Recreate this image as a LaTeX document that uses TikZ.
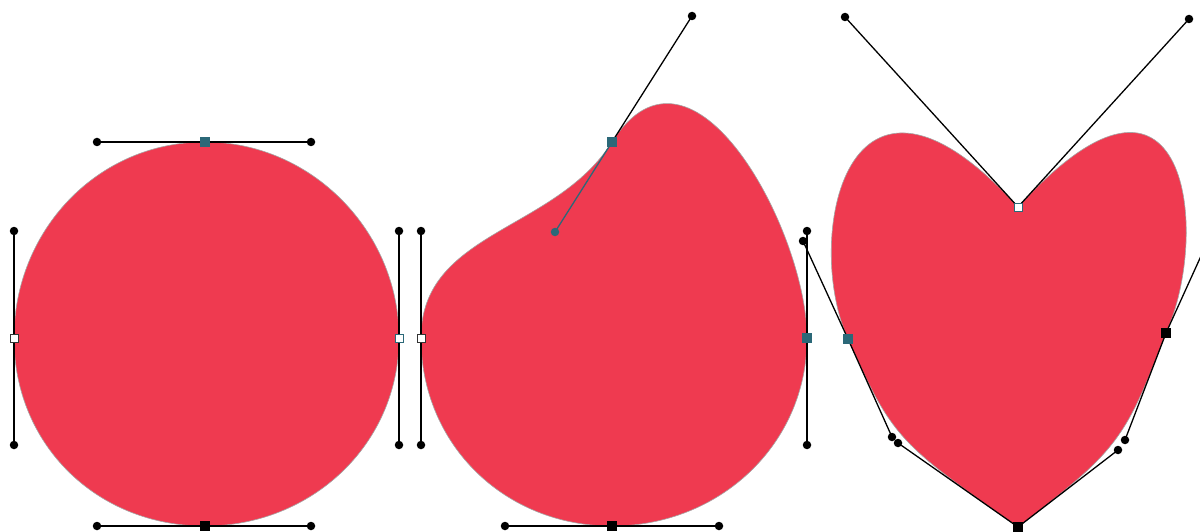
\documentclass[tikz,border=0pt]{standalone}
\begin{document}
\begin{tikzpicture}[x=1pt,y=-1pt,
  shapefill/.style={fill=heartred,draw=gray!70,line width=0.6pt},
  handle/.style={draw=black,line width=1.3pt},
  thandle/.style={draw=tealc,line width=1.3pt},
  dot/.style={circle,fill=black,inner sep=0pt,minimum size=8.5pt},
  tdot/.style={circle,fill=tealc,inner sep=0pt,minimum size=8.5pt},
  hollow/.style={rectangle,draw=black!80,fill=white,line width=1pt,inner sep=0pt,minimum size=8pt},
  thollow/.style={rectangle,draw=tealc,fill=white,line width=1pt,inner sep=0pt,minimum size=8pt},
  tsq/.style={rectangle,fill=tealc,inner sep=0pt,minimum size=9.5pt},
  bsq/.style={rectangle,fill=black,inner sep=0pt,minimum size=9.5pt}]
\definecolor{heartred}{HTML}{EF3A50}
\definecolor{tealc}{HTML}{2B6878}
\useasboundingbox (0,0) rectangle (1200,532);
\clip (0,0) rectangle (1200,532);

% ---------- circle ----------
\coordinate (cT) at (205,142);
\coordinate (cB) at (205,526);
\coordinate (cL) at (14,338);
\coordinate (cR) at (399,338);
\coordinate (cT1) at (97,142);  \coordinate (cT2) at (311,142);
\coordinate (cB1) at (97,526);  \coordinate (cB2) at (311,526);
\coordinate (cL1) at (14,231);  \coordinate (cL2) at (14,445);
\coordinate (cR1) at (399,231); \coordinate (cR2) at (399,445);
\path[shapefill] (cL) .. controls (cL1) and (cT1) .. (cT)
  .. controls (cT2) and (cR1) .. (cR)
  .. controls (cR2) and (cB2) .. (cB)
  .. controls (cB1) and (cL2) .. (cL) -- cycle;
\draw[handle] (cT1) -- (cT2);
\draw[handle] (cB1) -- (cB2);
\draw[handle] (cL1) -- (cL2);
\draw[handle] (cR1) -- (cR2);
\foreach \p in {cT1,cT2,cB1,cB2,cL1,cL2,cR1,cR2} \node[dot] at (\p) {};
\node[tsq] (ncT) at (cT) {};
\node[bsq] (ncB) at (cB) {};
\node[hollow] (ncL) at (cL) {};
\node[thollow] (ncR) at (cR) {};

% ---------- teardrop ----------
\coordinate (dL) at (421,338);
\coordinate (dT) at (612,142);
\coordinate (dR) at (807,338);
\coordinate (dB) at (612,526);
\coordinate (dL1) at (421,231); \coordinate (dL2) at (421,445);
\coordinate (dT1) at (555,232); \coordinate (dT2) at (692,16);
\coordinate (dR1) at (807,231); \coordinate (dR2) at (807,445);
\coordinate (dB1) at (505,526); \coordinate (dB2) at (719,526);
\path[shapefill] (dL) .. controls (dL1) and (dT1) .. (dT)
  .. controls (dT2) and (dR1) .. (dR)
  .. controls (dR2) and (dB2) .. (dB)
  .. controls (dB1) and (dL2) .. (dL) -- cycle;
\draw[handle] (dL1) -- (dL2);
\draw[handle] (dR1) -- (dR2);
\draw[handle] (dB1) -- (dB2);
\draw[handle] (dT) -- (dT2);
\draw[thandle] (dT1) -- (dT);
\foreach \p in {dL1,dL2,dR1,dR2,dB1,dB2,dT2} \node[dot] at (\p) {};
\node[tdot] (ndT1) at (dT1) {};
\node[hollow] (ndL) at (dL) {};
\node[tsq] (ndT) at (dT) {};
\node[tsq] (ndR) at (dR) {};
\node[bsq] (ndB) at (dB) {};

% ---------- heart ----------
\coordinate (hT) at (1018,207);
\coordinate (hL) at (848,339);
\coordinate (hB) at (1018,527);
\coordinate (hR) at (1166,333);
\coordinate (hT1) at (845,17);   \coordinate (hT2) at (1189,19);
\coordinate (hL1) at (803,241);  \coordinate (hL2) at (892,437);
\coordinate (hB1) at (898,443);  \coordinate (hB2) at (1118,450);
\coordinate (hR1) at (1125,440); \coordinate (hR2) at (1211,234);
\path[shapefill] (hT) .. controls (hT1) and (hL1) .. (hL)
  .. controls (hL2) and (hB1) .. (hB)
  .. controls (hB2) and (hR1) .. (hR)
  .. controls (hR2) and (hT2) .. (hT) -- cycle;
\draw[handle] (hT1) -- (hT) -- (hT2);
\draw[handle] (hL1) -- (hL) -- (hL2);
\draw[handle] (hB1) -- (hB) -- (hB2);
\draw[handle] (hR1) -- (hR) -- (hR2);
\foreach \p in {hT1,hT2,hL1,hL2,hB1,hB2,hR1,hR2} \node[dot] at (\p) {};
\node[thollow] (nhT) at (hT) {};
\node[tsq] (nhL) at (hL) {};
\node[bsq] (nhR) at (hR) {};
\node[bsq] (nhB) at (hB) {};
\end{tikzpicture}
\end{document}
